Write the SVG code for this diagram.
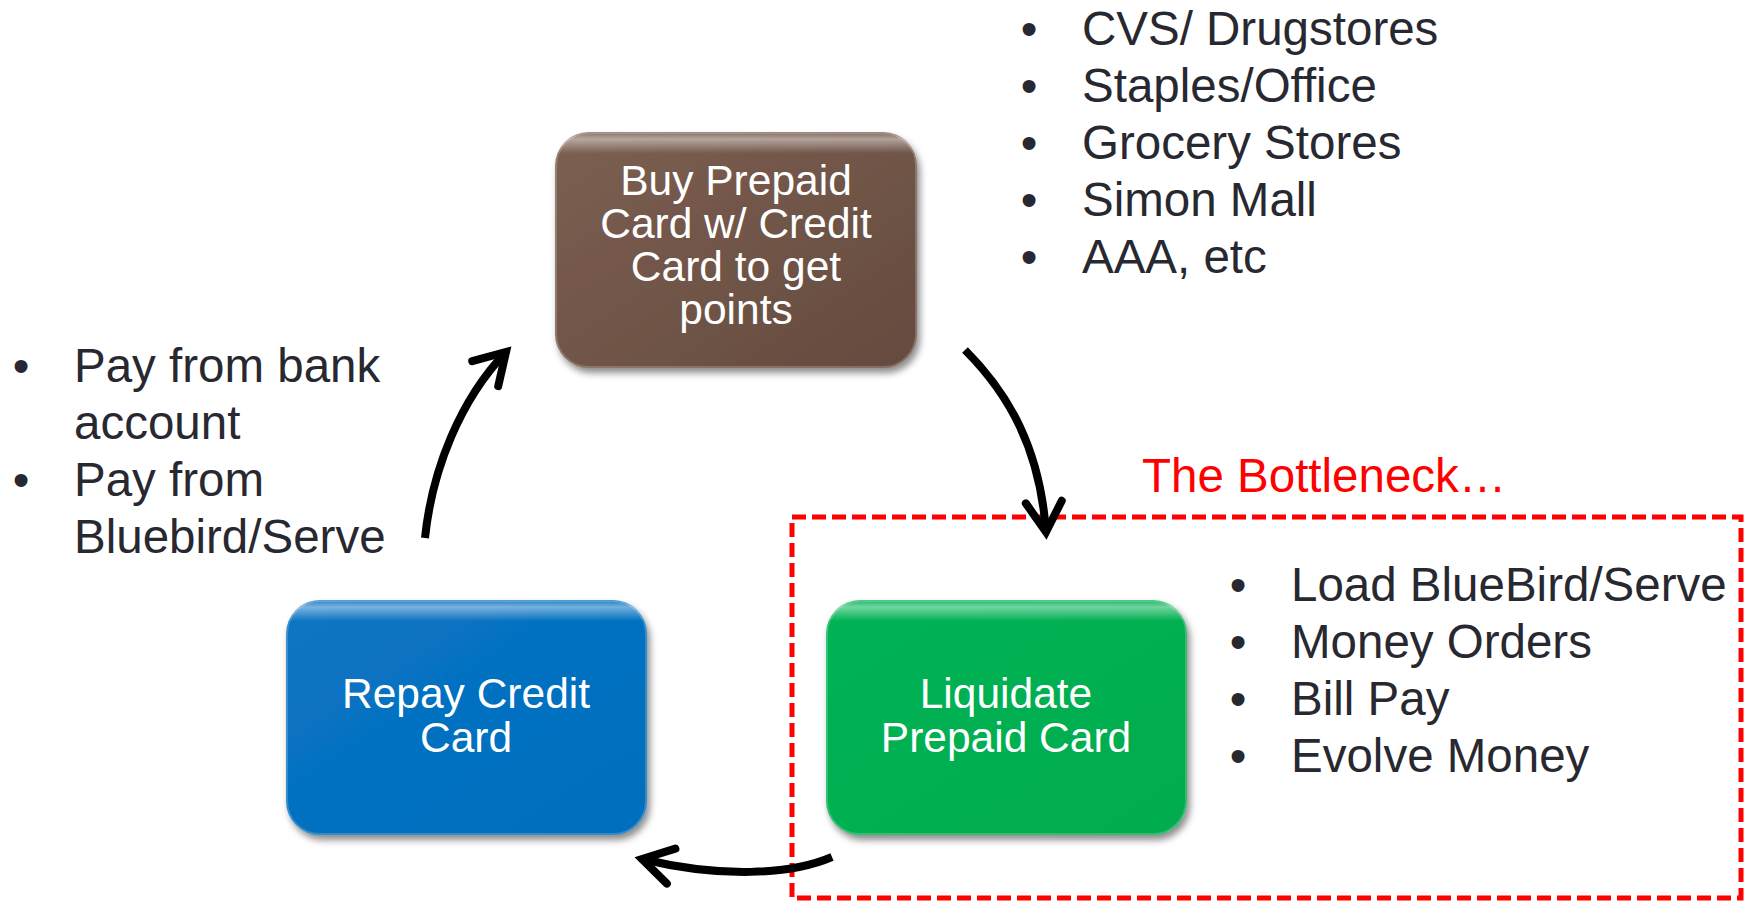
<svg xmlns="http://www.w3.org/2000/svg" width="1752" height="903" viewBox="0 0 1752 903" font-family="'Liberation Sans', Arial, sans-serif">
<defs>
<style>
text{font-family:"Liberation Sans",Arial,sans-serif}
.nt{font-size:42.5px;fill:#ffffff;text-anchor:middle}
.lt{font-size:47.5px;fill:#282831}
.bl{font-size:47.5px;fill:#282831;text-anchor:middle}
.red{font-size:47.5px;fill:#ff0000}
.arr{fill:none;stroke:#000;stroke-width:8;marker-end:url(#head)}
.gloss{fill:url(#shine)}
.rim{fill:none;stroke:#ffffff;stroke-opacity:0.2;stroke-width:2}
</style>
<marker id="head" markerUnits="userSpaceOnUse" viewBox="-45 -30 60 60" refX="0" refY="0" markerWidth="60" markerHeight="60" orient="auto">
<path d="M -30 -18 L 0 0 L -30 18" fill="none" stroke="#000" stroke-width="8" stroke-linecap="round" stroke-linejoin="miter"/>
</marker>
<filter id="sh" x="-10%" y="-10%" width="125%" height="130%">
<feDropShadow dx="3" dy="5" stdDeviation="3.5" flood-color="#000" flood-opacity="0.45"/>
</filter>
<linearGradient id="gBrown" x1="0" y1="0" x2="1" y2="1">
<stop offset="0" stop-color="#7c6052"/>
<stop offset="1" stop-color="#654a3e"/>
</linearGradient>
<linearGradient id="gBlue" x1="0" y1="0" x2="1" y2="1">
<stop offset="0" stop-color="#0a74c4"/>
<stop offset="1" stop-color="#006ebd"/>
</linearGradient>
<linearGradient id="gGreen" x1="0" y1="0" x2="1" y2="1">
<stop offset="0" stop-color="#02b354"/>
<stop offset="1" stop-color="#00ac4e"/>
</linearGradient>
<linearGradient id="shine" x1="0" y1="0" x2="0" y2="1">
<stop offset="0" stop-color="#ffffff" stop-opacity="0.1"/>
<stop offset="0.03" stop-color="#ffffff" stop-opacity="0.45"/>
<stop offset="0.09" stop-color="#ffffff" stop-opacity="0"/>
<stop offset="1" stop-color="#ffffff" stop-opacity="0"/>
</linearGradient>
</defs>
<rect width="1752" height="903" fill="#ffffff"/>

<g id="node-buy">
<rect x="555" y="132" width="362" height="236" rx="34" fill="url(#gBrown)" filter="url(#sh)"/>
<rect x="555" y="132" width="362" height="236" rx="34" class="gloss"/>
<rect x="556" y="133" width="360" height="234" rx="33" class="rim"/>
<text class="nt" x="736" y="195">Buy Prepaid</text>
<text class="nt" x="736" y="238">Card w/ Credit</text>
<text class="nt" x="736" y="281">Card to get</text>
<text class="nt" x="736" y="324">points</text>
</g>

<g id="node-repay">
<rect x="286" y="600" width="361" height="235" rx="34" fill="url(#gBlue)" filter="url(#sh)"/>
<rect x="286" y="600" width="361" height="235" rx="34" class="gloss"/>
<rect x="287" y="601" width="359" height="233" rx="33" class="rim"/>
<text class="nt" x="466" y="708">Repay Credit</text>
<text class="nt" x="466" y="752">Card</text>
</g>

<g id="node-liquidate">
<rect x="826" y="600" width="361" height="235" rx="34" fill="url(#gGreen)" filter="url(#sh)"/>
<rect x="826" y="600" width="361" height="235" rx="34" class="gloss"/>
<rect x="827" y="601" width="359" height="233" rx="33" class="rim"/>
<text class="nt" x="1006" y="708">Liquidate</text>
<text class="nt" x="1006" y="752">Prepaid Card</text>
</g>

<g id="list-stores">
<text class="bl" x="1029" y="45">•</text><text class="lt" x="1082" y="45">CVS/ Drugstores</text>
<text class="bl" x="1029" y="102">•</text><text class="lt" x="1082" y="102">Staples/Office</text>
<text class="bl" x="1029" y="159">•</text><text class="lt" x="1082" y="159">Grocery Stores</text>
<text class="bl" x="1029" y="216">•</text><text class="lt" x="1082" y="216">Simon Mall</text>
<text class="bl" x="1029" y="273">•</text><text class="lt" x="1082" y="273">AAA, etc</text>
</g>

<g id="list-pay">
<text class="bl" x="21" y="382">•</text><text class="lt" x="74" y="382">Pay from bank</text>
<text class="lt" x="74" y="439">account</text>
<text class="bl" x="21" y="496">•</text><text class="lt" x="74" y="496">Pay from</text>
<text class="lt" x="74" y="553">Bluebird/Serve</text>
</g>

<g id="bottleneck">
<text class="red" x="1142" y="492">The Bottleneck…</text>
<rect x="792" y="517" width="949" height="381" fill="none" stroke="#ff0000" stroke-width="5" stroke-dasharray="14 6"/>
<text class="bl" x="1238" y="601">•</text><text class="lt" x="1291" y="601">Load BlueBird/Serve</text>
<text class="bl" x="1238" y="658">•</text><text class="lt" x="1291" y="658">Money Orders</text>
<text class="bl" x="1238" y="715">•</text><text class="lt" x="1291" y="715">Bill Pay</text>
<text class="bl" x="1238" y="772">•</text><text class="lt" x="1291" y="772">Evolve Money</text>
</g>

<g id="connectors">
<path class="arr" d="M 425 538 C 432 470 460 400 506 352"/>
<path class="arr" d="M 965 350 C 1010 395 1040 450 1046 532"/>
<path class="arr" d="M 832 857 C 790 875 720 878 642 859"/>
</g>
</svg>
